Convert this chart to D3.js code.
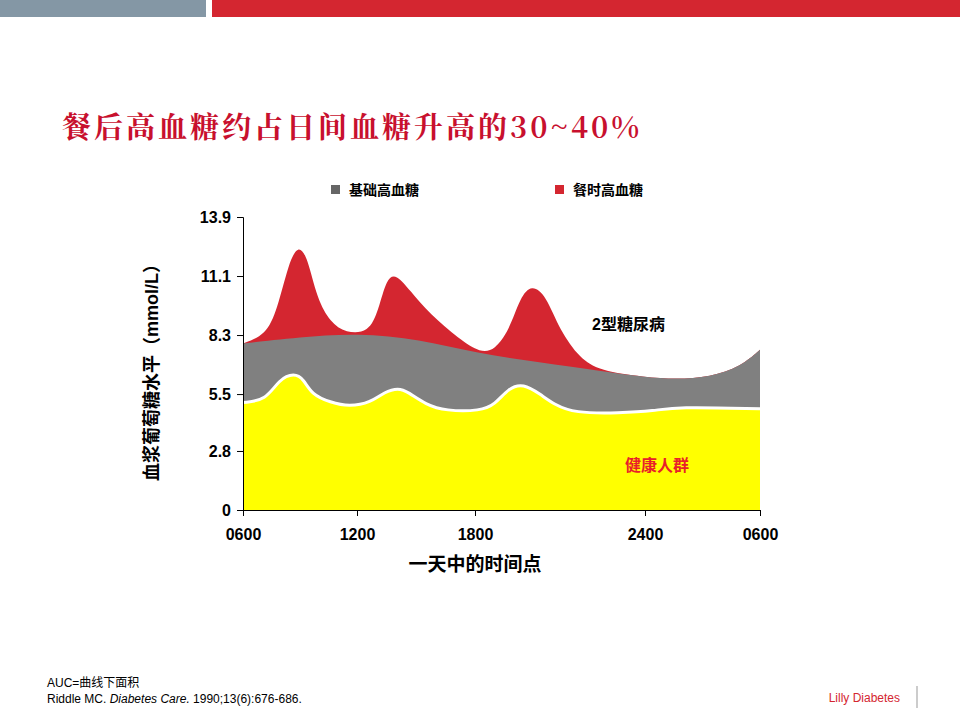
<!DOCTYPE html>
<html><head><meta charset="utf-8">
<script src="https://cdn.jsdelivr.net/npm/d3@7"></script>
<style>body{margin:0;background:#fff}text{font-family:Arial,"Liberation Sans","Noto Sans CJK SC",sans-serif}</style>
</head><body><div id="chart"></div>
<script>
var yTicks = [0, 2.8, 5.5, 8.3, 11.1, 13.9];
var xTicks = [6, 12, 18, 24, 30];
var xTickLabels = ["0600", "1200", "1800", "2400", "0600"];
var seriesNames = ["基础高血糖", "餐时高血糖"];

var healthyHours = [6, 7.2, 7.9, 8.7, 9.2, 9.6, 10.6, 11.6, 12.7, 13.4, 14.1, 14.6, 15.5, 16.5, 18.2, 18.7, 19.2, 19.7, 20.3, 20.8, 21.5, 23.1, 24.5, 25.6, 30];
var healthyValues = [5.1, 5.2, 6.2, 6.5, 6.2, 5.5, 5.1, 4.9, 5.1, 5.6, 5.8, 5.6, 5.0, 4.7, 4.7, 5.0, 5.8, 6.0, 5.5, 5.0, 4.6, 4.6, 4.7, 4.9, 4.8];
var basalHours = [6, 9, 12, 15.2, 18, 20.3, 22.4, 24, 25.6, 27.4, 29, 30];
var basalValues = [7.9, 8.2, 8.4, 8.1, 7.45, 7.0, 6.6, 6.3, 6.2, 6.3, 6.8, 7.6];
var totalHours = [6, 7.2, 7.8, 8.4, 8.9, 9.4, 9.9, 10.6, 11.4, 12.6, 13.1, 13.5, 14.0, 14.7, 15.7, 17.2, 18.2, 18.7, 19.2, 19.6, 20.0, 20.5, 21.0, 21.7, 22.4, 24, 25.6, 27.4, 29, 30];
var totalValues = [7.9, 8.3, 9.5, 11.7, 12.6, 12.0, 10.0, 8.9, 8.4, 8.4, 9.5, 11.0, 11.2, 10.4, 9.3, 8.1, 7.45, 7.6, 8.5, 10.1, 10.7, 10.2, 8.5, 7.2, 6.6, 6.3, 6.2, 6.3, 6.8, 7.6];

var svg = d3.select("#chart").append("svg").attr("width", 960).attr("height", 720);

// top bars
svg.append("rect").attr("x", 0).attr("y", 0).attr("width", 206).attr("height", 17).attr("fill", "#8497a5");
svg.append("rect").attr("x", 212).attr("y", 0).attr("width", 748).attr("height", 17).attr("fill", "#d42630");

svg.append("text").attr("x", 62).attr("y", 138).attr("fill", "#c8102e")
   .style("font-size", "29px").style("font-weight", "bold").style("letter-spacing", "3px")
   .style("font-family", "'Noto Serif CJK SC','Noto Sans CJK SC',serif")
   .text("餐后高血糖约占日间血糖升高的30~40%");

var x = d3.scaleLinear().domain(xTicks).range([243, 357, 475, 645, 760]);
var y = d3.scaleLinear().domain([0, 13.9]).range([510, 217]);

function zip(h, v) { return h.map(function(d, i) { return [d, v[i]]; }); }
var area = d3.area().x(function(d) { return x(d[0]); }).y0(y(0)).y1(function(d) { return y(d[1]); }).curve(d3.curveBasis);
var line = d3.line().x(function(d) { return x(d[0]); }).y(function(d) { return y(d[1]); }).curve(d3.curveBasis);

svg.append("path").datum(zip(totalHours, totalValues)).attr("d", area).attr("fill", "#d42630");
svg.append("path").datum(zip(basalHours, basalValues)).attr("d", area).attr("fill", "#808080");
svg.append("path").datum(zip(healthyHours, healthyValues)).attr("d", area).attr("fill", "#ffff00");
svg.append("path").datum(zip(healthyHours, healthyValues)).attr("d", line).attr("fill", "none").attr("stroke", "#fff").attr("stroke-width", 3);

var xAxis = svg.append("g").attr("transform", "translate(0,510)")
   .call(d3.axisBottom(x).tickValues(xTicks).tickFormat(function(d, i) { return xTickLabels[i]; }).tickSizeOuter(0).tickSize(6));
var yAxis = svg.append("g").attr("transform", "translate(243,0)")
   .call(d3.axisLeft(y).tickValues(yTicks).tickFormat(d3.format("")).tickSizeOuter(0).tickSize(6));
[xAxis, yAxis].forEach(function(a) {
  a.selectAll("path,line").attr("stroke", "#000");
  a.selectAll("text").style("font-size", "16px").style("font-weight", "bold").attr("fill", "#000");
});
xAxis.selectAll("text").attr("dy", "1.3em");
yAxis.selectAll("text").attr("x", -12);

svg.append("text").attr("x", 475).attr("y", 571).attr("text-anchor", "middle")
   .style("font-size", "19px").style("font-weight", "bold").text("一天中的时间点");
svg.append("text").attr("transform", "translate(158,368) rotate(-90)").attr("text-anchor", "middle")
   .style("font-size", "18px").style("font-weight", "bold").text("血浆葡萄糖水平（mmol/L）");

// legend
var legendColors = ["#666", "#d42630"];
var legendX = [331, 555];
seriesNames.forEach(function(n, i) {
  svg.append("rect").attr("x", legendX[i]).attr("y", 185).attr("width", 9).attr("height", 9).attr("fill", legendColors[i]);
  svg.append("text").attr("x", legendX[i] + 18).attr("y", 195).style("font-size", "14px").style("font-weight", "bold").text(n);
});

svg.append("text").attr("x", 592).attr("y", 330).style("font-size", "16px").style("font-weight", "bold").text("2型糖尿病");
svg.append("text").attr("x", 625).attr("y", 471).attr("fill", "#e8202a").style("font-size", "16px").style("font-weight", "bold").text("健康人群");

svg.append("text").attr("x", 47).attr("y", 687).style("font-size", "12px").text("AUC=曲线下面积");
var ref = svg.append("text").attr("x", 47).attr("y", 703).style("font-size", "12px");
ref.append("tspan").text("Riddle MC. ");
ref.append("tspan").style("font-style", "italic").text("Diabetes Care.");
ref.append("tspan").text(" 1990;13(6):676-686.");
svg.append("text").attr("x", 900).attr("y", 702).attr("text-anchor", "end").attr("fill", "#d42630").style("font-size", "12px").text("Lilly Diabetes");
svg.append("line").attr("x1", 917).attr("x2", 917).attr("y1", 686).attr("y2", 708).attr("stroke", "#999");
</script></body></html>
